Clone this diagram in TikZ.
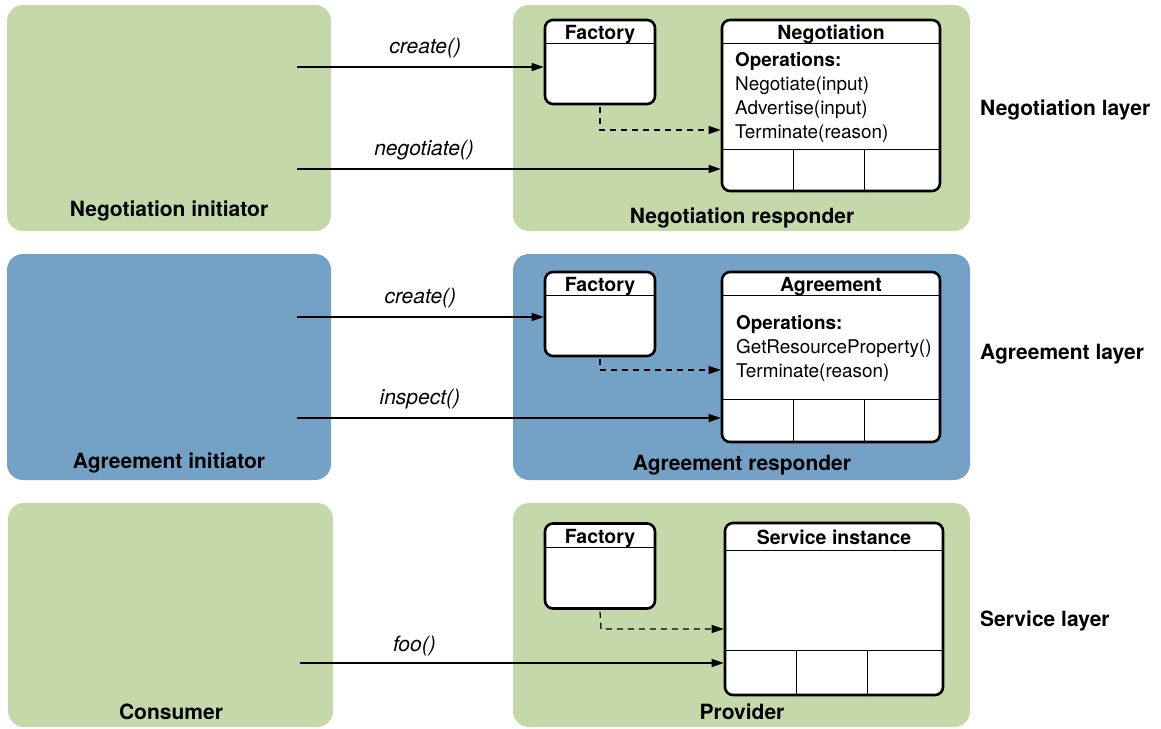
\documentclass[tikz,border=0pt]{standalone}
\usepackage{fontspec}
\setmainfont{TeX Gyre Heros}
\usetikzlibrary{arrows.meta,positioning,calc}
\definecolor{cgreen}{HTML}{C4D8A9}
\definecolor{cblue}{HTML}{74A2C6}

\begin{document}
\begin{tikzpicture}[x=1pt,y=-1pt,
    area/.style={rectangle,rounded corners=16pt,inner sep=0},
    cls/.style={rectangle,draw,fill=white,line width=2.6pt,rounded corners=8pt,inner sep=0},
    hdr/.style={font=\bfseries\fontsize{19.5}{24}\selectfont,text height=14pt,text depth=0pt,inner sep=0},
    ops/.style={font=\fontsize{18.9}{24}\selectfont,align=left,inner sep=0,anchor=north west},
    grp/.style={font=\bfseries\fontsize{21}{25}\selectfont,text height=15pt,text depth=0pt,inner sep=0},
    lbl/.style={font=\itshape\fontsize{21}{25}\selectfont,text height=15pt,text depth=0pt,inner sep=0},
    call/.style={line width=1.2pt,-{Triangle[length=12pt,width=8pt]}},
    make/.style={call,dashed,dash pattern=on 6pt off 5pt}]
  \useasboundingbox (0,0) rectangle (1161,728);

  % containers
  \node[area,fill=cgreen,minimum width=324pt,minimum height=226pt] (ni) at (169,118) {};
  \node[area,fill=cgreen,minimum width=457pt,minimum height=226pt] (nr) at (741.5,118) {};
  \node[area,fill=cblue,minimum width=324pt,minimum height=226pt] (ai) at (169,367) {};
  \node[area,fill=cblue,minimum width=457pt,minimum height=226pt] (ar) at (741.5,367) {};
  \node[area,fill=cgreen,minimum width=325pt,minimum height=224pt] (co) at (170.5,615) {};
  \node[area,fill=cgreen,minimum width=457pt,minimum height=224pt] (pr) at (741.5,615) {};

  \node[grp] at (169,209) {Negotiation initiator};
  \node[grp] at (742,216) {Negotiation responder};
  \node[grp] at (169,461) {Agreement initiator};
  \node[grp] at (742,463) {Agreement responder};
  \node[grp] at (171,712) {Consumer};
  \node[grp] at (742,712) {Provider};

  \node[grp,anchor=west] at (980,108) {Negotiation layer};
  \node[grp,anchor=west] at (980,352) {Agreement layer};
  \node[grp,anchor=west] at (980,619) {Service layer};

  % factories
  \node[cls,minimum width=110pt,minimum height=84pt] (f1) at (600,62) {};
  \node[cls,minimum width=110pt,minimum height=84pt] (f2) at (600,314) {};
  \node[cls,minimum width=110pt,minimum height=85pt] (f3) at (600,566) {};
  \foreach \f in {f1,f2,f3} {
    \draw[line width=1.2pt] ([yshift=-25pt]\f.north west) -- ([yshift=-25pt]\f.north east);
    \node[hdr] at ([yshift=-14pt]\f.north) {Factory};
  }

  % resources
  \node[cls,minimum width=218pt,minimum height=171pt] (n1) at (831,105.5) {};
  \node[cls,minimum width=218pt,minimum height=170pt] (a1) at (831,357) {};
  \node[cls,minimum width=218pt,minimum height=172pt] (s1) at (834,609) {};
  \foreach \b/\h/\c in {n1/25/43,a1/25/44,s1/29/46} {
    \draw[line width=1.2pt] ([yshift=-\h pt]\b.north west) -- ([yshift=-\h pt]\b.north east);
    \draw[line width=1.2pt] ([yshift=\c pt]\b.south west) -- ([yshift=\c pt]\b.south east);
    \draw[line width=1.2pt] ([xshift=73pt]\b.south west) -- ([xshift=73pt,yshift=\c pt]\b.south west);
    \draw[line width=1.2pt] ([xshift=144pt]\b.south west) -- ([xshift=144pt,yshift=\c pt]\b.south west);
  }
  \node[hdr] at ([yshift=-14pt]n1.north) {Negotiation};
  \node[hdr] at ([yshift=-14pt]a1.north) {Agreement};
  \node[hdr] at ([yshift=-16pt]s1.north) {Service instance};
  \node[ops] (n1ops) at (735,52) {\textbf{Operations:}\\Negotiate(input)\\Advertise(input)\\Terminate(reason)};
  \node[ops] (a1ops) at (736,315) {\textbf{Operations:}\\GetResourceProperty()\\Terminate(reason)};

  % calls
  \coordinate (ni1) at (297,67);
  \coordinate (ni2) at (297,169);
  \coordinate (ai1) at (297,317);
  \coordinate (ai2) at (297,418);
  \coordinate (co1) at (300,663);
  \draw[call] (ni1) -- (ni1 -| f1.west) node[lbl,pos=0.52,yshift=21pt] {create()};
  \draw[call] (ni2) -- (ni2 -| n1.west) node[lbl,pos=0.3,yshift=21pt] {negotiate()};
  \draw[call] (ai1) -- (ai1 -| f2.west) node[lbl,pos=0.5,yshift=21pt] {create()};
  \draw[call] (ai2) -- (ai2 -| a1.west) node[lbl,pos=0.29,yshift=21pt] {inspect()};
  \draw[call] (co1) -- (co1 -| s1.west) node[lbl,pos=0.27,yshift=19pt] {foo()};

  % creation
  \coordinate (d1) at (600,130);
  \coordinate (d2) at (600,370);
  \coordinate (d3) at (601,629);
  \draw[make] ([yshift=-2pt]f1.south) -- (d1) -- (d1 -| n1.west);
  \draw[make] ([yshift=-2pt]f2.south) -- (d2) -- (d2 -| a1.west);
  \draw[make] ([yshift=-2pt]f3.south) -- (d3) -- (d3 -| s1.west);
\end{tikzpicture}
\end{document}
